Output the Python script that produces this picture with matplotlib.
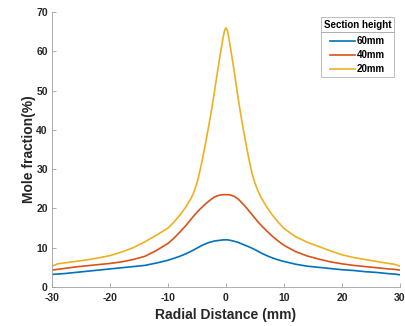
import matplotlib.pyplot as plt
from matplotlib.lines import Line2D

plt.rcParams['font.family'] = ['Liberation Sans', 'DejaVu Sans']
plt.rcParams['font.weight'] = 'bold'
plt.rcParams['axes.unicode_minus'] = False

# radial positions (mm)
radial = [-30, -29, -28, -26, -24, -22, -20, -18, -16, -14, -12, -10, -9, -8, -7,
          -6, -5.5, -5, -4.5, -4, -3.5, -3, -2.5, -2, -1.5, -1, -0.5, -0.25, 0,
          0.25, 0.5, 1, 1.5, 2, 2.5, 3, 3.5, 4, 4.5, 5, 5.5, 6,
          7, 8, 9, 10, 12, 14, 16, 18, 20, 22, 24, 26, 28, 29, 30]

# mole fraction (%) for each section height
h60 = [3.2, 3.3, 3.4, 3.7, 4.0, 4.3, 4.6, 4.9, 5.2, 5.5, 6.1, 6.8, 7.3, 7.8, 8.4,
       9.1, 9.5, 9.9, 10.3, 10.7, 11.0, 11.3, 11.5, 11.7, 11.8, 11.9, 12.0, 12.0, 12.0,
       12.0, 11.95, 11.8, 11.6, 11.4, 11.1, 10.8, 10.5, 10.2, 9.85, 9.5, 9.1, 8.7,
       8.0, 7.4, 6.9, 6.5, 5.8, 5.3, 5.0, 4.7, 4.4, 4.2, 3.9, 3.7, 3.4, 3.3, 3.1]
h40 = [4.3, 4.5, 4.7, 5.1, 5.4, 5.7, 6.0, 6.4, 7.0, 7.8, 9.3, 11.1, 12.4, 13.9, 15.5,
       17.3, 18.2, 19.0, 19.8, 20.5, 21.2, 21.8, 22.4, 22.9, 23.2, 23.4, 23.5, 23.5, 23.5,
       23.5, 23.5, 23.3, 23.0, 22.5, 21.8, 21.0, 20.2, 19.3, 18.4, 17.5, 16.6, 15.8,
       14.3, 12.9, 11.7, 10.6, 9.0, 7.9, 7.1, 6.4, 5.9, 5.5, 5.2, 4.9, 4.6, 4.5, 4.3]
h20 = [5.3, 5.9, 6.1, 6.5, 6.9, 7.4, 8.0, 8.9, 10.0, 11.5, 13.2, 15.0, 16.5, 18.2, 20.2,
       22.6, 24.3, 26.5, 29.5, 33.0, 36.8, 40.8, 45.0, 49.6, 54.5, 59.2, 63.5, 65.3, 66.0,
       65.2, 63.3, 58.8, 54.0, 49.0, 44.3, 40.0, 36.0, 32.2, 28.8, 26.4, 24.5, 22.9,
       20.4, 18.3, 16.5, 14.9, 12.8, 11.4, 10.3, 9.2, 8.2, 7.5, 7.0, 6.5, 6.0, 5.8, 5.3]

labels = ['60mm', '40mm', '20mm']
colors = ['#0072BD', '#D95319', '#EDB120']

fig = plt.figure(figsize=(4.06, 3.26), dpi=100)
ax = fig.add_axes([52 / 406, 1 - 287 / 326, 348 / 406, 275 / 326])

for y, lab, c in zip([h60, h40, h20], labels, colors):
    ax.plot(radial, y, color=c, lw=1.2, label=lab)

ax.set_xlim(-30, 30)
ax.set_ylim(0, 70)
ax.set_xticks(range(-30, 31, 10))
ax.set_yticks(range(0, 71, 10))
ax.tick_params(direction='in', length=3, width=0.6, color='#a0a0a0', labelsize=7.5)
ax.tick_params(axis='x', pad=4)
ax.tick_params(axis='y', pad=3)
for lab in ax.get_xticklabels() + ax.get_yticklabels():
    lab.set_fontweight('bold')
    lab.set_color('#262626')
for side in ['top', 'right']:
    ax.spines[side].set_visible(False)
for side in ['left', 'bottom']:
    ax.spines[side].set_color('#a0a0a0')
    ax.spines[side].set_linewidth(0.6)

ax.set_xlabel('Radial Distance (mm)', fontsize=10, fontweight='bold', color='#262626', labelpad=4)
ax.set_ylabel('Mole fraction(%)', fontsize=10, fontweight='bold', color='#262626', labelpad=0)

leg = ax.legend(title='Section height', loc='upper right', bbox_to_anchor=(394 / 406, 1 - 17 / 326),
                bbox_transform=fig.transFigure, fontsize=7, title_fontproperties={'weight': 'bold', 'size': 7},
                frameon=True, fancybox=False, edgecolor='#a0a0a0', handlelength=2.6, handletextpad=0.2,
                borderpad=0.3, labelspacing=0.42, borderaxespad=0)
leg.get_frame().set_linewidth(0.6)
leg._legend_box.sep = 4.5

fig.canvas.draw()
bb = leg.get_window_extent().transformed(fig.transFigure.inverted())
tb = leg.get_title().get_window_extent().transformed(fig.transFigure.inverted())
ysep = tb.y0 - 0.007
fig.add_artist(Line2D([bb.x0, bb.x1], [ysep, ysep], transform=fig.transFigure, color='#a0a0a0', lw=0.6))

fig.savefig('out.png', dpi=100)
